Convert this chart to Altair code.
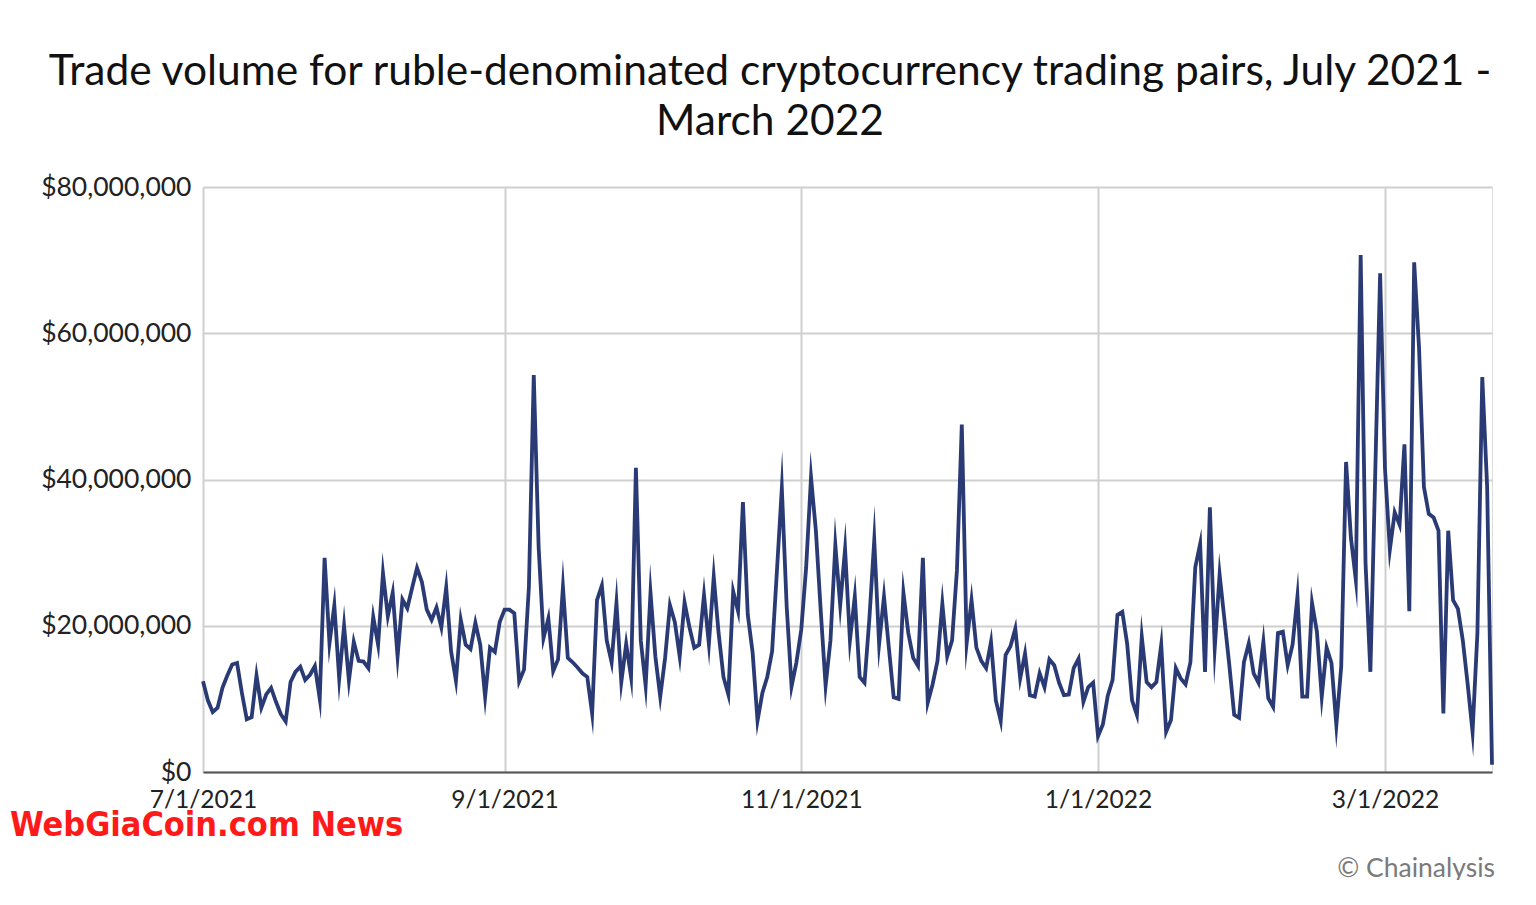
import altair as alt
import pandas as pd

start_date = "2021-07-01"

jul = [12.4, 9.8, 8.2, 8.8, 11.5, 13.2, 14.7, 14.9, 10.8, 7.2, 7.5, 13.2, 8.8, 10.6, 11.5, 9.6,
       7.9, 6.9, 12.3, 13.7, 14.4, 12.6, 13.3, 14.5, 10.0, 29.3, 17.6, 22.8, 12.8, 20.0, 12.5]
aug = [17.8, 15.2, 15.1, 14.2, 21.2, 17.4, 27.2, 21.3, 24.5, 15.8, 23.6, 22.4, 25.2, 27.9, 26.0, 22.2,
       20.8, 22.5, 19.8, 25.2, 16.5, 12.5, 20.8, 17.4, 16.8, 20.4, 17.4, 10.3, 17.0, 16.4, 20.5]
sep = [22.2, 22.2, 21.7, 12.4, 14.0, 25.3, 54.3, 30.8, 18.3, 21.0, 13.8, 15.4, 25.3, 15.6, 15.0, 14.3,
       13.5, 13.0, 8.0, 23.5, 25.5, 18.0, 15.0, 23.1, 12.3, 17.5, 13.0, 41.6, 18.0, 11.8]
oct_ = [24.5, 15.8, 10.3, 15.6, 22.8, 20.5, 15.8, 23.2, 19.8, 17.0, 17.4, 24.2, 17.5, 26.7, 19.0, 13.0,
        10.6, 24.7, 22.0, 36.9, 21.5, 16.3, 7.0, 10.8, 13.0, 16.5, 27.6, 38.8, 22.6, 11.7, 15.0]
nov = [19.5, 28.0, 40.3, 33.0, 22.0, 11.8, 18.0, 31.0, 22.8, 30.5, 18.0, 24.0, 13.0, 12.2, 21.0, 31.7,
       17.5, 24.0, 17.0, 10.2, 10.0, 24.5, 19.0, 15.6, 14.5, 29.3, 9.5, 12.0, 15.2, 23.0]
dec = [15.8, 18.0, 27.6, 47.5, 17.6, 23.5, 17.0, 15.2, 14.2, 17.8, 9.8, 7.0, 16.0, 17.2, 19.6, 12.8,
       16.2, 10.5, 10.3, 13.5, 11.6, 15.4, 14.6, 12.2, 10.5, 10.6, 14.2, 15.5, 9.6, 11.6, 12.2]
jan = [4.9, 6.5, 10.4, 12.6, 21.5, 21.9, 17.5, 9.8, 7.8, 18.5, 12.3, 11.6, 12.3, 17.4, 5.5, 7.1,
       14.2, 12.8, 12.0, 15.0, 28.0, 31.2, 13.7, 36.2, 17.0, 27.0, 20.8, 14.6, 7.8, 7.4, 15.0]
feb = [17.6, 13.5, 12.2, 17.8, 10.1, 8.9, 19.0, 19.2, 14.6, 17.4, 24.0, 10.3, 10.3, 23.1, 19.2, 10.3,
       17.0, 14.9, 6.4, 14.4, 42.4, 32.0, 26.3, 70.7, 28.6, 13.7, 41.0, 68.2]
mar = [41.5, 30.4, 35.5, 33.8, 44.8, 22.0, 69.7, 58.0, 39.0, 35.3, 34.8, 33.0, 8.0, 33.0, 23.5, 22.3,
       18.0, 12.0, 5.5, 19.0, 54.0, 39.0, 1.0]

volume_millions = jul + aug + sep + oct_ + nov + dec + jan + feb + mar

y_ticks = [0, 20_000_000, 40_000_000, 60_000_000, 80_000_000]
x_ticks = [(2021, 7, 1), (2021, 9, 1), (2021, 11, 1), (2022, 1, 1), (2022, 3, 1)]

dates = pd.date_range(start_date, periods=len(volume_millions), freq="D")
df = pd.DataFrame({
    "date": [d.strftime("%Y-%m-%dT00:00:00") for d in dates],
    "volume": [v * 1_000_000 for v in volume_millions],
})

FONT = "Lato"
line_color = "#2a3a74"

x_enc = alt.X(
    "date:T",
    scale=alt.Scale(
        domain=[alt.DateTime(year=2021, month=7, date=1),
                alt.DateTime(year=2022, month=3, date=23)],
        nice=False,
    ),
    axis=alt.Axis(
        values=[alt.DateTime(year=y, month=m, date=d) for y, m, d in x_ticks],
        format="%-m/%-d/%Y",
        title=None,
        grid=True,
        gridColor="#cfcfcf",
        gridWidth=2,
        domainColor="#555555",
        domainWidth=2,
        ticks=False,
        labelFont=FONT,
        labelFontSize=24.5,
        labelColor="#222222",
        labelPadding=16,
        labelFlush=False,
    ),
)
y_enc = alt.Y(
    "volume:Q",
    scale=alt.Scale(domain=[0, 80_000_000], nice=False),
    axis=alt.Axis(
        values=y_ticks,
        format="$,.0f",
        title=None,
        grid=True,
        gridColor="#cfcfcf",
        gridWidth=2,
        domain=False,
        ticks=False,
        labelFont=FONT,
        labelFontSize=26.5,
        labelColor="#222222",
        labelPadding=12,
    ),
)

line = alt.Chart(df).mark_line(color=line_color, strokeWidth=3.8, strokeJoin="miter", strokeMiterLimit=20).encode(
    x=x_enc, y=y_enc
)

footer = alt.Chart(pd.DataFrame({"t": ["© Chainalysis"]})).mark_text(
    font=FONT, fontSize=26.5, color="#7a7a7a", align="right", baseline="middle"
).encode(text="t:N", x=alt.value(1292), y=alt.value(682))

watermark = alt.Chart(pd.DataFrame({"t": ["WebGiaCoin.com News"]})).mark_text(
    font="'DejaVu Sans Condensed', 'Liberation Sans', sans-serif", fontSize=34, fontWeight="bold",
    color="#ff1a1a", align="left", baseline="alphabetic"
).encode(text="t:N", x=alt.value(-193), y=alt.value(649))

chart = alt.layer(line, footer, watermark).properties(
    width=1289,
    height=585,
    title=alt.TitleParams(
        text=["Trade volume for ruble-denominated cryptocurrency trading pairs, July 2021 -", "March 2022"],
        font=FONT,
        fontSize=42.5,
        fontWeight="normal",
        color="#111111",
        anchor="middle",
        frame="bounds",
        lineHeight=50,
        offset=31,
    ),
    autosize=alt.AutoSizeParams(type="none"),
    padding={"left": 195, "top": 179, "right": 36, "bottom": 108},
).configure_view(stroke=None).configure(background="white")

chart.save("out.html", embed_options={"renderer": "svg", "actions": False})
